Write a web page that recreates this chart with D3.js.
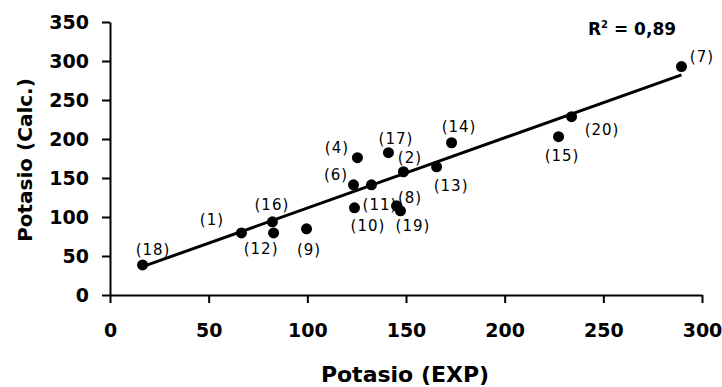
<!DOCTYPE html>
<html>
<head>
  <meta charset="UTF-8">
  <style>
    body { margin: 0; background: #fff; }
    .tick text { font-family: "DejaVu Sans"; font-weight: bold; font-size: 19px; fill: #000; }
    .tick line, .domain { stroke: #000; stroke-width: 2px; }
    .ptlabel { font-family: "DejaVu Sans"; font-size: 15px; letter-spacing: 1px; fill: #000; }
    .title { font-family: "DejaVu Sans"; font-weight: bold; fill: #000; }
  </style>
</head>
<body>
<div id="chart_div"></div>

<script src="https://d3js.org/d3.v7.min.js"></script>
<script>

let width = 722, height = 387;

// sample ids and values (EXP vs Calc.)
const sampleIds = [1, 2, 4, 6, 7, 8, 9, 10, 11, 12, 13, 14, 15, 16, 17, 18, 19, 20];
const potasioExp = [66.6, 148.7, 125.4, 123.4, 289.6, 145.2, 99.6, 123.9, 132.5, 82.9, 165.5, 173.1, 227.3, 82.3, 141.1, 16.5, 147.2, 233.9];
const potasioCalc = [79.6, 158, 176, 141.3, 292.8, 114.3, 84.8, 111.7, 141.3, 79.6, 164.4, 195.2, 203, 93.8, 182.4, 38.5, 107.9, 228.6];

// axis ticks
const xTicks = [0, 50, 100, 150, 200, 250, 300];
const yTicks = [0, 50, 100, 150, 200, 250, 300, 350];

// trend line
const trendSlope = 0.9;
const trendIntercept = 21.5;
const rSquared = "0,89";

// where each point label sits relative to its dot (px)
const labelOffsets = {
  1: [-30, -13], 2: [6, -14], 4: [-21, -10], 6: [-18, -10], 7: [20, -10],
  8: [13, -8], 9: [2, 21], 10: [13, 18], 11: [8, 20], 12: [-13, 16],
  13: [14, 19], 14: [7, -16], 15: [3, 19], 16: [-1, -17], 17: [7, -14],
  18: [10, -15], 19: [12, 15], 20: [30, 13]
};

const points = sampleIds.map((id, i) => ({ id: id, x: potasioExp[i], y: potasioCalc[i] }));

let svg = d3.select("#chart_div")
    .append("svg")
    .attr("width", width)
    .attr("height", height);

let x = d3.scaleLinear().domain([0, 300]).range([110, 702]);
let y = d3.scaleLinear().domain([0, 350]).range([295, 22]);

// axes
svg.append("g")
    .attr("transform", "translate(0,295)")
    .call(d3.axisBottom(x).tickValues(xTicks).tickSize(8).tickSizeOuter(0).tickPadding(20))
    .call(g => g.selectAll(".tick text").attr("dy", "0.73em"));

svg.append("g")
    .attr("transform", "translate(110,0)")
    .call(d3.axisLeft(y).tickValues(yTicks).tickSize(8).tickSizeOuter(0).tickPadding(13));

svg.selectAll(".domain").attr("fill", "none");

// trend line over the data range
let xExt = d3.extent(potasioExp);
svg.append("line")
    .attr("x1", x(xExt[0]))
    .attr("y1", y(trendIntercept + trendSlope * xExt[0]))
    .attr("x2", x(xExt[1]))
    .attr("y2", y(trendIntercept + trendSlope * xExt[1]))
    .attr("stroke", "#000")
    .attr("stroke-width", 3);

// dots
svg.append("g")
    .selectAll("circle")
    .data(points)
    .enter()
    .append("circle")
    .attr("cx", d => x(d.x))
    .attr("cy", d => y(d.y))
    .attr("r", 5.5)
    .attr("fill", "#000");

// point labels
svg.append("g")
    .selectAll("text")
    .data(points)
    .enter()
    .append("text")
    .attr("class", "ptlabel")
    .attr("x", d => x(d.x) + labelOffsets[d.id][0] + 0.5)
    .attr("y", d => y(d.y) + labelOffsets[d.id][1])
    .attr("text-anchor", "middle")
    .attr("dominant-baseline", "central")
    .text(d => "(" + d.id + ")");

// R squared
let r2 = svg.append("text")
    .attr("class", "title")
    .attr("x", 632)
    .attr("y", 35)
    .attr("text-anchor", "middle")
    .style("font-size", "17px");
r2.append("tspan").text("R");
r2.append("tspan").attr("dy", -7).style("font-size", "10px").text("2");
r2.append("tspan").attr("dy", 7).text(" = " + rSquared);

// axis titles
svg.append("text")
    .attr("class", "title")
    .attr("x", 405)
    .attr("y", 382)
    .attr("text-anchor", "middle")
    .style("font-size", "22px")
    .text("Potasio (EXP)");

svg.append("text")
    .attr("class", "title")
    .attr("transform", "translate(32,160) rotate(-90)")
    .attr("text-anchor", "middle")
    .style("font-size", "20px")
    .text("Potasio (Calc.)");

</script>
</body>
</html>
